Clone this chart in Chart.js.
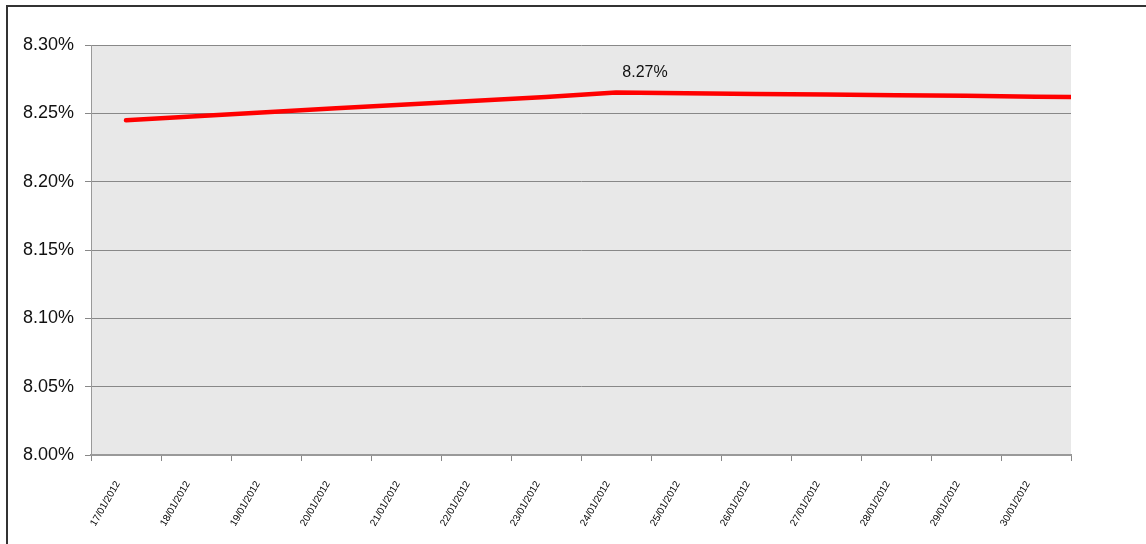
<!DOCTYPE html>
<html>
<head>
<meta charset="utf-8">
<script src="https://cdn.jsdelivr.net/npm/chart.js@4/dist/chart.umd.min.js"></script>
<style>
  html, body { margin: 0; padding: 0; background: #fff; }
  #wrap { position: relative; width: 1146px; height: 544px; overflow: hidden; }
  #frame { position: absolute; left: 6px; top: 5px; width: 1200px; height: 600px;
           border-top: 2px solid #333; border-left: 2px solid #333; }
  #rateChart { position: absolute; left: 0; top: 0; }
</style>
</head>
<body>
<div id="wrap">
  <div id="frame"></div>
  <canvas id="rateChart" width="1146" height="544"></canvas>
</div>
<script>
// Fechas (la última queda fuera del eje; solo se ve el tramo recortado)
const fechas = ['17/01/2012', '18/01/2012', '19/01/2012', '20/01/2012', '21/01/2012',
  '22/01/2012', '23/01/2012', '24/01/2012', '25/01/2012', '26/01/2012',
  '27/01/2012', '28/01/2012', '29/01/2012', '30/01/2012', '31/01/2012'];

// Tasa (%)
const tasa = [8.2449, 8.2479, 8.2508, 8.2538, 8.2565, 8.2592, 8.2620, 8.2652,
  8.2647, 8.2641, 8.2638, 8.2633, 8.2628, 8.2622, 8.2617];

// Punto con etiqueta
const indiceEtiqueta = 7;

// Último índice visible del eje X
const ultimoVisible = 13;

const yMin = 8.00;
const yMax = 8.30;
const yPaso = 0.05;

// Fondo del área de trazado
const fondoPlugin = {
  id: 'fondo',
  beforeDraw(chart) {
    const a = chart.chartArea;
    const ctx = chart.ctx;
    ctx.save();
    ctx.fillStyle = '#e8e8e8';
    ctx.fillRect(a.left, a.top, a.right - a.left, a.bottom - a.top);
    ctx.restore();
  }
};

// Etiqueta de dato
const etiquetaPlugin = {
  id: 'etiqueta',
  afterDatasetsDraw(chart) {
    const meta = chart.getDatasetMeta(0);
    const p = meta.data[indiceEtiqueta];
    if (!p) return;
    const ctx = chart.ctx;
    ctx.save();
    ctx.font = '16px "Liberation Sans", Arial, sans-serif';
    ctx.fillStyle = '#111';
    ctx.textAlign = 'center';
    ctx.textBaseline = 'middle';
    ctx.fillText(tasa[indiceEtiqueta].toFixed(2) + '%', p.x + 29, p.y - 20);
    ctx.restore();
  }
};

const ctx = document.getElementById('rateChart').getContext('2d');
window.rateChart = new Chart(ctx, {
  type: 'line',
  data: {
    labels: fechas,
    datasets: [{
      data: tasa,
      borderColor: '#ff0000',
      borderWidth: 4.5,
      borderCapStyle: 'round',
      borderJoinStyle: 'round',
      pointRadius: 0,
      tension: 0,
      clip: 0,
      fill: false
    }]
  },
  options: {
    responsive: false,
    animation: false,
    layout: { padding: { left: 0, top: 45, right: 75, bottom: 0 } },
    plugins: {
      legend: { display: false },
      tooltip: { enabled: false }
    },
    scales: {
      x: {
        type: 'category',
        offset: true,
        grid: {
          offset: true,
          drawOnChartArea: false,
          drawTicks: true,
          tickLength: 6,
          color: '#888'
        },
        border: { display: true, color: '#999', width: 2 },
        ticks: {
          autoSkip: false,
          minRotation: 60,
          maxRotation: 60,
          padding: 18,
          labelOffset: -8,
          color: '#000',
          font: { family: '"Liberation Sans", Arial, sans-serif', size: 10 }
        },
        // recorta el eje sin limitar los puntos que se dibujan
        afterDataLimits(scale) { scale.max = ultimoVisible; },
        afterFit(scale) { scale.height = 89; }
      },
      y: {
        min: yMin,
        max: yMax,
        grid: {
          color: '#888',
          lineWidth: 1,
          tickLength: 6,
          drawTicks: true
        },
        border: { display: true, color: '#999', width: 1 },
        ticks: {
          stepSize: yPaso,
          padding: 11,
          color: '#111',
          font: { family: '"Liberation Sans", Arial, sans-serif', size: 18 },
          callback: v => v.toFixed(2) + '%'
        },
        afterFit(scale) { scale.width = 91; }
      }
    }
  },
  plugins: [fondoPlugin, etiquetaPlugin]
});
</script>
</body>
</html>
